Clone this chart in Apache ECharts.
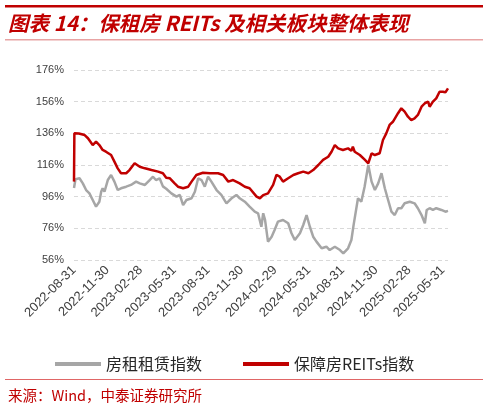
<!DOCTYPE html>
<html><head><meta charset="utf-8">
<script src="https://cdn.jsdelivr.net/npm/echarts@6/dist/echarts.min.js"></script>
<style>html,body{margin:0;padding:0;background:#fff}#c{width:488px;height:408px}</style>
</head><body><div id="c"></div>
<script>
const titleText = '图表 14：保租房 REITs 及相关板块整体表现';
const sourceText = '来源：Wind，中泰证券研究所';
const seriesNames = ['房租租赁指数', '保障房REITs指数'];
const startDate = '2022-08-31';
const endDate = '2025-06-14';
const tickLabels = ['2022-08-31','2022-11-30','2023-02-28','2023-05-31','2023-08-31','2023-11-30','2024-02-29','2024-05-31','2024-08-31','2024-11-30','2025-02-28','2025-05-31'];
const yTicks = { min: 56, max: 176, step: 20 };

const greyDates = ['2022-08-31','2022-09-04','2022-09-15','2022-09-24','2022-10-03','2022-10-12','2022-10-21','2022-10-30','2022-11-08','2022-11-13','2022-11-17','2022-11-22','2022-12-01','2022-12-10','2022-12-19','2022-12-28','2023-01-06','2023-01-20','2023-02-02','2023-02-16','2023-02-26','2023-03-12','2023-03-25','2023-04-03','2023-04-11','2023-04-21','2023-04-30','2023-05-09','2023-05-23','2023-06-06','2023-06-15','2023-06-24','2023-07-03','2023-07-17','2023-07-26','2023-08-04','2023-08-13','2023-08-22','2023-08-31','2023-09-09','2023-09-23','2023-10-06','2023-10-20','2023-11-03','2023-11-16','2023-11-25','2023-12-09','2023-12-22','2024-01-05','2024-01-14','2024-01-23','2024-01-28','2024-02-02','2024-02-10','2024-02-20','2024-02-28','2024-03-08','2024-03-22','2024-04-05','2024-04-14','2024-04-23','2024-05-07','2024-05-16','2024-05-25','2024-06-03','2024-06-12','2024-06-21','2024-07-05','2024-07-18','2024-07-27','2024-08-10','2024-08-24','2024-09-02','2024-09-15','2024-09-24','2024-09-30','2024-10-12','2024-10-21','2024-10-30','2024-11-09','2024-11-18','2024-11-27','2024-12-06','2024-12-15','2024-12-24','2025-01-02','2025-01-11','2025-01-20','2025-01-29','2025-02-07','2025-02-16','2025-03-02','2025-03-15','2025-03-24','2025-04-03','2025-04-12','2025-04-17','2025-04-25','2025-05-04','2025-05-13','2025-05-27','2025-06-07','2025-06-14'];
const greyValues = [101.5,107.0,107.6,104.4,100.2,98.1,93.9,89.7,92.8,99.1,101.3,99.1,106.5,109.7,105.5,100.2,101.3,102.3,103.4,105.5,104.4,103.4,106.5,108.6,106.5,107.6,102.5,101.0,98.1,96.0,97.1,90.7,93.9,95.0,99.1,107.6,106.5,102.3,108.6,105.5,100.2,97.1,91.8,95.0,97.1,95.0,92.8,89.7,86.5,85.5,77.0,85.5,81.3,67.6,70.7,74.9,80.2,81.3,79.2,72.9,68.6,72.9,78.1,84.4,77.0,70.7,67.6,63.4,64.4,62.3,64.4,62.3,60.2,63.4,68.6,78.0,95.0,92.8,102.3,116.0,105.5,100.2,104.4,110.8,101.3,93.9,86.5,84.4,88.7,88.7,91.8,92.8,91.8,88.7,84.4,79.2,87.6,88.7,87.6,88.7,87.6,86.5,87.0];

const redDates = ['2022-08-31','2022-09-01','2022-09-13','2022-09-29','2022-10-08','2022-10-21','2022-10-30','2022-11-08','2022-11-17','2022-11-26','2022-12-01','2022-12-10','2022-12-19','2022-12-28','2023-01-06','2023-01-20','2023-01-29','2023-02-12','2023-02-26','2023-03-12','2023-03-30','2023-04-17','2023-04-30','2023-05-09','2023-05-19','2023-06-01','2023-06-10','2023-06-24','2023-07-08','2023-07-17','2023-07-30','2023-08-17','2023-09-05','2023-09-27','2023-10-11','2023-10-25','2023-11-07','2023-11-25','2023-12-09','2023-12-22','2024-01-10','2024-01-19','2024-01-28','2024-02-10','2024-02-24','2024-03-04','2024-03-13','2024-03-22','2024-04-05','2024-04-19','2024-05-02','2024-05-16','2024-05-30','2024-06-12','2024-06-26','2024-07-09','2024-07-23','2024-08-01','2024-08-10','2024-08-19','2024-09-01','2024-09-15','2024-09-24','2024-09-28','2024-10-03','2024-10-17','2024-10-31','2024-11-09','2024-11-18','2024-11-27','2024-12-10','2024-12-19','2024-12-28','2025-01-06','2025-01-15','2025-01-29','2025-02-07','2025-02-16','2025-02-25','2025-03-06','2025-03-15','2025-03-24','2025-04-03','2025-04-12','2025-04-21','2025-04-25','2025-05-04','2025-05-13','2025-05-22','2025-05-31','2025-06-07','2025-06-14'];
const redValues = [105.5,136.0,135.9,134.9,132.9,128.6,130.7,128.6,125.5,124.4,125.5,122.3,118.1,113.9,110.8,110.8,112.8,117.1,114.9,113.9,112.8,111.8,110.8,108.0,107.6,104.4,102.3,101.3,102.3,105.5,109.7,111.1,110.8,110.8,109.7,105.5,106.5,104.4,102.3,101.3,96.0,95.0,97.0,98.1,103.4,109.7,108.6,105.5,107.6,109.7,110.8,111.8,110.8,112.8,116.0,119.2,121.2,124.4,128.6,126.5,125.5,126.5,125.0,127.5,124.4,122.3,119.2,117.1,123.4,122.3,123.4,131.8,136.0,141.3,143.3,148.7,151.8,149.7,146.5,144.4,145.5,147.6,152.8,155.0,156.0,152.8,156.0,158.1,162.3,162.3,161.9,164.4];

function fmt(t) { return new Date(t).toISOString().slice(0, 10); }
const categories = [];
for (let t = Date.parse(startDate); t <= Date.parse(endDate); t += 86400000) categories.push(fmt(t));
const idx = {};
categories.forEach((c, i) => { idx[c] = i; });
const pairs = (ds, vs) => ds.map((d, i) => [idx[d], vs[i]]);

const chart = echarts.init(document.getElementById('c'), null, { renderer: 'canvas' });
const FONT = '"Liberation Sans", Arial, sans-serif';
const CJK = '"Noto Sans CJK SC", sans-serif';
chart.setOption({
  animation: false,
  backgroundColor: '#fff',
  title: {
    text: titleText, left: 3, top: 8,
    textStyle: { color: '#C00000', fontSize: 20.5, fontWeight: 'bold', fontStyle: 'italic', fontFamily: CJK }
  },
  graphic: [
    { type: 'rect', shape: { x: 5, y: 5, width: 478, height: 2.5 }, style: { fill: '#C00000' } },
    { type: 'rect', shape: { x: 5, y: 39, width: 478, height: 1.5 }, style: { fill: '#E8A3A3' } },
    { type: 'rect', shape: { x: 5, y: 379, width: 478, height: 1 }, style: { fill: '#E06666' } },
    { type: 'text', x: 8, y: 395, style: { text: sourceText, fill: '#C00000', font: '14.5px ' + CJK, textVerticalAlign: 'middle' } }
  ],
  legend: {
    data: seriesNames, left: 55, top: 356, padding: 0, icon: 'rect', itemWidth: 46, itemHeight: 4, itemGap: 41,
    textStyle: { fontSize: 16, color: '#262626', fontFamily: CJK }
  },
  grid: { left: 74, right: 40, top: 70, bottom: 148 },
  xAxis: {
    type: 'category', data: categories, boundaryGap: false,
    axisLine: { show: false }, axisTick: { show: false }, splitLine: { show: false },
    axisLabel: {
      interval: (i, v) => tickLabels.includes(v), rotate: 45, margin: 8,
      fontSize: 13, color: '#404040', fontFamily: FONT
    }
  },
  yAxis: {
    type: 'value', min: yTicks.min, max: yTicks.max, interval: yTicks.step,
    axisLine: { show: false }, axisTick: { show: false },
    axisLabel: { formatter: '{value}%', fontSize: 11, color: '#404040', margin: 10, fontFamily: FONT },
    splitLine: { lineStyle: { type: [4, 3], color: '#D9D9D9', width: 1 } }
  },
  series: [
    { name: seriesNames[0], type: 'line', data: pairs(greyDates, greyValues), symbol: 'none',
      lineStyle: { color: '#A6A6A6', width: 2.5 }, itemStyle: { color: '#A6A6A6' } },
    { name: seriesNames[1], type: 'line', data: pairs(redDates, redValues), symbol: 'none',
      lineStyle: { color: '#C00000', width: 2.5 }, itemStyle: { color: '#C00000' } }
  ]
});
</script></body></html>
